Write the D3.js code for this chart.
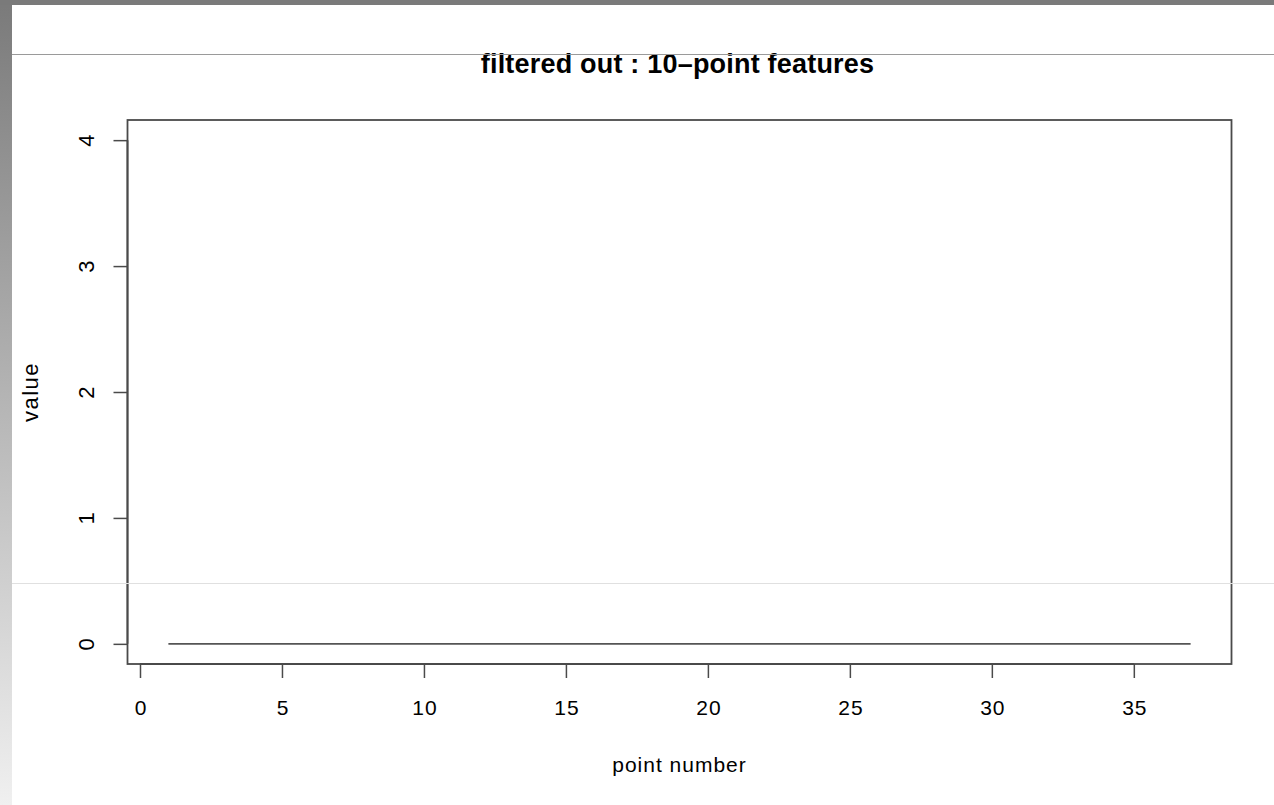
<!DOCTYPE html>
<html><head><meta charset="utf-8">
<script src="https://cdn.jsdelivr.net/npm/d3@7/dist/d3.min.js"></script>
<style>
html,body{margin:0;padding:0;background:#fff;overflow:hidden}
text{font-family:"Liberation Sans",Arial,Helvetica,sans-serif;fill:#000}
</style></head>
<body>
<svg id="c" width="1274" height="805"></svg>
<script>
const pointNumbers = d3.range(1, 38);
const values = [0,0,0,0,0,0,0,0,0,0,0,0,0,0,0,0,0,0,0,0,0,0,0,0,0,0,0,0,0,0,0,0,0,0,0,0,0];
const xTicks = [0,5,10,15,20,25,30,35];
const yTicks = [0,1,2,3,4];
const title = "filtered out : 10\u2013point features";
const xLabel = "point number";
const yLabel = "value";

(function(){
const svg = d3.select("#c");
const W = 1274, H = 805;

const defs = svg.append("defs");
const g1 = defs.append("linearGradient").attr("id","lg").attr("x1",0).attr("y1",0).attr("x2",0).attr("y2",1);
g1.append("stop").attr("offset","0%").attr("stop-color","#7a7a7a");
g1.append("stop").attr("offset","100%").attr("stop-color","#f0f0f0");
svg.append("rect").attr("x",0).attr("y",0).attr("width",12).attr("height",H).attr("fill","url(#lg)");
svg.append("rect").attr("x",0).attr("y",0).attr("width",W).attr("height",5).attr("fill","#7a7a7a");

const pL = 127.5, pR = 1231.5, pT = 120, pB = 664;
const xExt = d3.extent(pointNumbers), xr = (xExt[1]-xExt[0])*0.04;
const x = d3.scaleLinear().domain([xExt[0]-xr, xExt[1]+xr]).range([pL, pR]);
const yMax = 4, yr = yMax*0.04;
const y = d3.scaleLinear().domain([0-yr, yMax+yr]).range([pB, pT]);

svg.append("rect").attr("x",pL).attr("y",pT).attr("width",pR-pL).attr("height",pB-pT)
  .attr("fill","none").attr("stroke","#4a4a4a").attr("stroke-width",1.8);

const xa = svg.append("g").attr("transform",`translate(0,${pB})`)
  .call(d3.axisBottom(x).tickValues(xTicks).tickSize(14).tickFormat(d3.format("d")));
xa.select(".domain").attr("stroke","#4a4a4a").attr("stroke-width",1.8).attr("d",`M${x(0)},0H${x(35)}`);
xa.selectAll(".tick line").attr("stroke","#4a4a4a").attr("stroke-width",1.5);
xa.selectAll(".tick text").attr("y",51).attr("dy",null)
  .attr("font-size",21).attr("letter-spacing","1px").attr("dx","0.5px")
  .attr("font-family","Liberation Sans, Arial, sans-serif").attr("fill","#000");

const ya = svg.append("g").attr("transform",`translate(${pL},0)`)
  .call(d3.axisLeft(y).tickValues(yTicks).tickSize(14).tickFormat(d3.format("d")));
ya.select(".domain").attr("stroke","#4a4a4a").attr("stroke-width",1.8).attr("d",`M0,${y(0)}V${y(4)}`);
ya.selectAll(".tick line").attr("stroke","#4a4a4a").attr("stroke-width",1.5);
ya.selectAll(".tick text").remove();
ya.selectAll(".tick").append("text")
  .attr("transform","translate(-41,0) rotate(-90)")
  .attr("text-anchor","middle").attr("dy","0.36em")
  .attr("font-size",22).attr("fill","#000")
  .text(d => d);

const line = d3.line().x((d,i)=>x(pointNumbers[i])).y(d=>y(d));
svg.append("path").datum(values).attr("d",line).attr("fill","none")
  .attr("stroke","#555").attr("stroke-width",1.8);

svg.append("text").attr("x",(pL+pR)/2 - 2).attr("y",73).attr("text-anchor","middle")
  .attr("font-size",27).attr("font-weight","bold").attr("letter-spacing","0.2px").text(title);
svg.append("text").attr("x",(pL+pR)/2).attr("y",772).attr("text-anchor","middle")
  .attr("font-size",21).attr("letter-spacing","1px").text(xLabel);
svg.append("text").attr("transform",`translate(38,392) rotate(-90)`).attr("text-anchor","middle")
  .attr("font-size",22).attr("letter-spacing","1.5px").text(yLabel);

svg.append("line").attr("x1",12).attr("x2",W).attr("y1",54.5).attr("y2",54.5).attr("stroke","#9a9a9a").attr("stroke-width",1);
svg.append("line").attr("x1",12).attr("x2",W).attr("y1",583.5).attr("y2",583.5).attr("stroke","#e0e0e0").attr("stroke-width",1);
})();
</script>
</body></html>
